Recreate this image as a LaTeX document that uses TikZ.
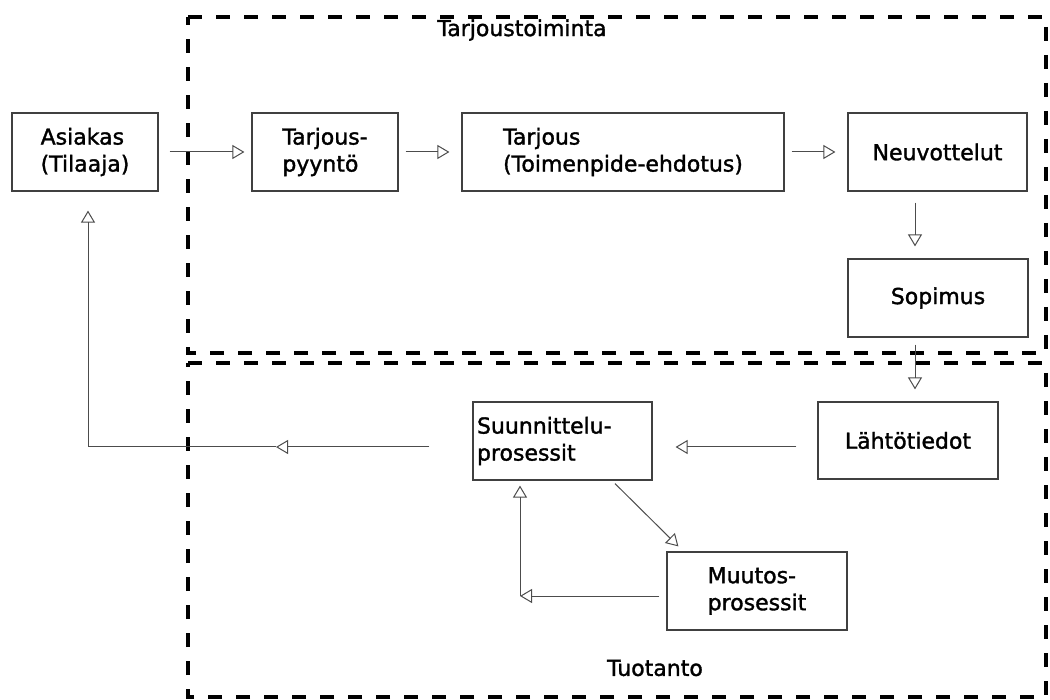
\documentclass[tikz,border=0pt]{standalone}
\usepackage{fontspec}
\setmainfont{DejaVu Sans}[BoldFont={DejaVu Sans}, BoldFeatures={FakeBold=1.5}]
\usetikzlibrary{arrows.meta,calc}

\begin{document}
\begin{tikzpicture}[x=1pt,y=-1pt,
  lbl/.style={font=\fontsize{22}{27}\selectfont\bfseries, inner sep=0pt},
  box/.style={lbl, draw=black!75, line width=1.2pt, align=left,
    minimum height=78pt},
  arr/.style={draw=black!70, line width=1pt,
    -{Triangle[open,length=12pt,width=14pt]}},
  zone/.style={draw=black, line width=4pt, dash pattern=on 14pt off 14pt}]
\useasboundingbox (0,0) rectangle (1050,700);

% the two process areas
\draw[zone] (188,17) -- (1046,17) -- (1046,353) -- (188,353) -- cycle;
\draw[zone] (188,363) -- (1046,363) -- (1046,697) -- (188,697) -- cycle;
\node[lbl] (ttitle) at (522,30) {Tarjoustoiminta};
\node[lbl] (ptitle) at (655,668) {Tuotanto};

% steps
\node[box, minimum width=146pt] (asiakas) at (85,152) {Asiakas\\(Tilaaja)};
\node[box, minimum width=146pt] (pyynto) at (325,152) {Tarjous-\\pyyntö};
\node[box, minimum width=322pt] (tarjous) at (623,152) {Tarjous\\(Toimenpide-ehdotus)};
\node[box, minimum width=179pt] (neuv) at (937.5,152) {Neuvottelut};
\node[box, minimum width=180pt] (sopimus) at (938,298) {Sopimus};
\node[box, minimum width=180pt, minimum height=77pt] (lahto) at (908,440.5) {Lähtötiedot};
\node[box, text width=171pt, minimum width=179pt] (suunn) at (562.5,441) {Suunnittelu-\\prosessit};
\node[box, minimum width=180pt] (muutos) at (757,591) {Muutos-\\prosessit};

% offer flow
\draw[arr, shorten <=11pt, shorten >=7pt] (asiakas) -- (pyynto);
\draw[arr, shorten <=7pt, shorten >=12pt] (pyynto) -- (tarjous);
\draw[arr, shorten <=7pt, shorten >=12pt] (tarjous) -- (neuv);
\draw[arr, shorten <=11pt, shorten >=12pt] ([xshift=-22.5pt]neuv.south) -- ([xshift=-23pt]sopimus.north);
\draw[arr, shorten <=7pt, shorten >=12pt] ([xshift=-23pt]sopimus.south) -- ([xshift=7pt]lahto.north);

% production flow
\draw[arr, shorten <=21pt, shorten >=23pt] ([yshift=-6.5pt]lahto.west) -- ([yshift=-6pt]suunn.east);
\coordinate (retmid) at (276,447);
\coordinate (retcorner) at (88,447);
\draw[arr] ([xshift=-43pt,yshift=-6pt]suunn.west) -- (retmid);
\draw[arr, shorten >=19pt] (retmid) -- (retcorner) -- (asiakas.south -| retcorner);
\draw[arr] ([xshift=52.5pt,yshift=-3pt]suunn.south) -- ([xshift=12pt,yshift=5pt]muutos.north west);
\coordinate (loopcorner) at (520,596);
\draw[arr] ([xshift=-7pt,yshift=-5pt]muutos.west) -- (loopcorner);
\draw[arr, shorten >=5pt] (loopcorner) -- (suunn.south -| loopcorner);
\end{tikzpicture}
\end{document}
